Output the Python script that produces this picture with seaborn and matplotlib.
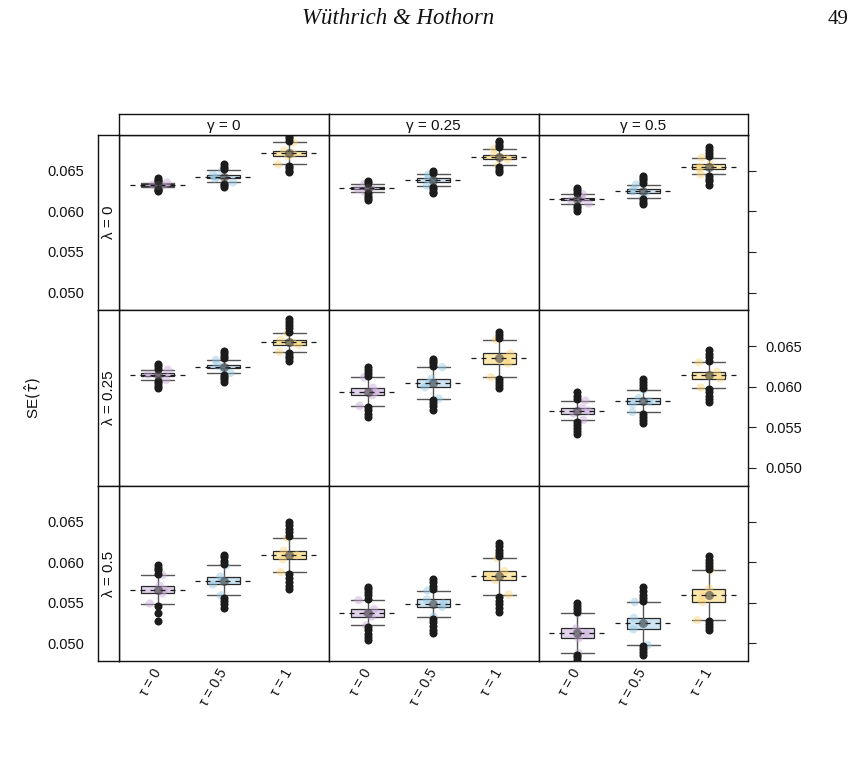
import numpy as np
import pandas as pd
import matplotlib
matplotlib.use("Agg")
import matplotlib.pyplot as plt
import seaborn as sns

LAMBDAS = ["0", "0.25", "0.5"]
GAMMAS = ["0", "0.25", "0.5"]
TAUS = ["0", "0.5", "1"]

# box statistics, indexed [lambda][gamma][tau]
Q1 = [
    [[0.06315, 0.06405, 0.06678], [0.06275, 0.06365, 0.06640], [0.06135, 0.06225, 0.06525]],
    [[0.06130, 0.06225, 0.06515], [0.05895, 0.05994, 0.06286], [0.05670, 0.05785, 0.06100]],
    [[0.05615, 0.05725, 0.06035], [0.05330, 0.05450, 0.05780], [0.05062, 0.05172, 0.05510]],
]
MED = [
    [[0.06327, 0.06425, 0.06713], [0.06290, 0.06385, 0.06668], [0.06152, 0.06245, 0.06550]],
    [[0.06150, 0.06245, 0.06545], [0.05937, 0.06048, 0.06348], [0.05705, 0.05820, 0.06140]],
    [[0.05660, 0.05770, 0.06085], [0.05370, 0.05490, 0.05830], [0.05123, 0.05246, 0.05592]],
]
Q3 = [
    [[0.06338, 0.06448, 0.06748], [0.06305, 0.06405, 0.06695], [0.06170, 0.06270, 0.06580]],
    [[0.06170, 0.06270, 0.06575], [0.05986, 0.06097, 0.06410], [0.05740, 0.05860, 0.06185]],
    [[0.05710, 0.05820, 0.06140], [0.05420, 0.05540, 0.05890], [0.05185, 0.05314, 0.05673]],
]
WLO = [
    [[0.06300, 0.06356, 0.06578], [0.06240, 0.06315, 0.06565], [0.06095, 0.06170, 0.06455]],
    [[0.06085, 0.06170, 0.06430], [0.05764, 0.05854, 0.06117], [0.05590, 0.05690, 0.05990]],
    [[0.05490, 0.05590, 0.05880], [0.05220, 0.05330, 0.05600], [0.04879, 0.04980, 0.05286]],
]
WHI = [
    [[0.06355, 0.06504, 0.06849], [0.06340, 0.06455, 0.06770], [0.06210, 0.06330, 0.06660]],
    [[0.06210, 0.06330, 0.06660], [0.06117, 0.06241, 0.06579], [0.05830, 0.05960, 0.06300]],
    [[0.05840, 0.05960, 0.06300], [0.05530, 0.05650, 0.06050], [0.05368, 0.05510, 0.05897]],
]
OUT_HI = [
    [[[0.0637, 0.0639, 0.0641], [0.0652, 0.0655, 0.0658], [0.0687, 0.0690, 0.0693]],
     [[0.0635, 0.0637], [0.0647, 0.0650], [0.0679, 0.0682, 0.0685, 0.0687]],
     [[0.0623, 0.0626, 0.0629], [0.0635, 0.0638, 0.0641, 0.0644], [0.0668, 0.0672, 0.0675, 0.0679]]],
    [[[0.0622, 0.0625, 0.0628], [0.0635, 0.0638, 0.0641, 0.0644], [0.0668, 0.0672, 0.0676, 0.0680, 0.0684]],
     [[0.0613, 0.0617, 0.0621, 0.0624], [0.0626, 0.0629, 0.0632, 0.0634], [0.0660, 0.0664, 0.0668]],
     [[0.0585, 0.0589, 0.0593], [0.0598, 0.0602, 0.0606, 0.0609], [0.0632, 0.0636, 0.0640, 0.0645]]],
    [[[0.0586, 0.0590, 0.0593, 0.0596], [0.0598, 0.0602, 0.0606, 0.0609], [0.0632, 0.0637, 0.0641, 0.0646, 0.0650]],
     [[0.0555, 0.0559, 0.0563, 0.0567, 0.0569], [0.0567, 0.0571, 0.0575, 0.0579], [0.0607, 0.0611, 0.0615, 0.0620, 0.0624]],
     [[0.0538, 0.0542, 0.0546, 0.0550], [0.0552, 0.0556, 0.0560, 0.0565, 0.0569], [0.0591, 0.0595, 0.0599, 0.0603, 0.0607]]],
]
OUT_LO = [
    [[[0.0628, 0.0626, 0.0625], [0.0634, 0.0632, 0.0630], [0.0656, 0.0653, 0.0650, 0.0648]],
     [[0.0622, 0.0619, 0.0616, 0.0614], [0.0630, 0.0627, 0.0624, 0.0622], [0.0654, 0.0651, 0.0648]],
     [[0.0607, 0.0604, 0.0601], [0.0615, 0.0612, 0.0609], [0.0643, 0.0640, 0.0637, 0.0633]]],
    [[[0.0607, 0.0604, 0.0601, 0.0598], [0.0615, 0.0612, 0.0609, 0.0606], [0.0641, 0.0638, 0.0635, 0.0632]],
     [[0.0575, 0.0571, 0.0567, 0.0563], [0.0584, 0.0580, 0.0576, 0.0571], [0.0610, 0.0606, 0.0602, 0.0598]],
     [[0.0557, 0.0553, 0.0549, 0.0545, 0.0542], [0.0567, 0.0563, 0.0559, 0.0555], [0.0597, 0.0593, 0.0589, 0.0585, 0.0581]]],
    [[[0.0546, 0.0537, 0.0528], [0.0556, 0.0552, 0.0548, 0.0544], [0.0585, 0.0580, 0.0576, 0.0571, 0.0567]],
     [[0.0520, 0.0516, 0.0512, 0.0508, 0.0504], [0.0530, 0.0526, 0.0521, 0.0517, 0.0513], [0.0557, 0.0552, 0.0548, 0.0544, 0.0539]],
     [[0.0486, 0.0483, 0.0480], [0.0497, 0.0493, 0.0489, 0.0486], [0.0527, 0.0524, 0.0520, 0.0516]]],
]

CLOUD_COLORS = ["#c7a6d8", "#93c6e4", "#fbd578"]
BOX_COLORS = ["#e2d3ec", "#cde5f3", "#fde9ae"]
YTICKS = [0.050, 0.055, 0.060, 0.065]
YLIM = (0.0478, 0.0694)

# ---------- long-form data ----------
recs = []
for i, lam in enumerate(LAMBDAS):
    for j, gam in enumerate(GAMMAS):
        for k, tau in enumerate(TAUS):
            for v in OUT_HI[i][j][k] + OUT_LO[i][j][k]:
                recs.append((lam, gam, tau, "out", v))
            for v in (WLO[i][j][k], Q1[i][j][k], MED[i][j][k], Q3[i][j][k], WHI[i][j][k]):
                recs.append((lam, gam, tau, "cloud", v))
            recs.append((lam, gam, tau, "center", MED[i][j][k]))
df = pd.DataFrame(recs, columns=["lam", "gam", "tau", "kind", "value"])

# ---------- figure ----------
W, H, DPI = 855, 784, 100
sns.set_theme(style="white")
plt.rcParams["font.family"] = ["Liberation Sans", "DejaVu Sans"]
plt.rcParams["mathtext.fontset"] = "dejavusans"
np.random.seed(3)

fig = plt.figure(figsize=(W / DPI, H / DPI), dpi=DPI)


def fax(x0, y0, x1, y1):
    return fig.add_axes([x0 / W, 1 - y1 / H, (x1 - x0) / W, (y1 - y0) / H])


COLX = [119, 328.8, 538.6, 748.4]
ROWY = [135, 310.4, 485.8, 661.2]
TXT = "#111111"
EDGE = "#111111"

for i, lam in enumerate(LAMBDAS):
    for j, gam in enumerate(GAMMAS):
        ax = fax(COLX[j], ROWY[i], COLX[j + 1], ROWY[i + 1])
        sub = df[(df.lam == lam) & (df.gam == gam)]
        stats = []
        for k in range(3):
            stats.append(dict(med=MED[i][j][k], q1=Q1[i][j][k], q3=Q3[i][j][k],
                              whislo=WLO[i][j][k], whishi=WHI[i][j][k], fliers=[]))
        bp = ax.bxp(stats, positions=[0, 1, 2], widths=0.5, capwidths=0.5,
                    patch_artist=True, showfliers=False, manage_ticks=False,
                    boxprops=dict(edgecolor="#2a2a2a", linewidth=0.9),
                    whiskerprops=dict(color="#555555", linewidth=1.0),
                    capprops=dict(color="#555555", linewidth=1.0),
                    medianprops=dict(linewidth=0))
        for k, patch in enumerate(bp["boxes"]):
            patch.set_facecolor(BOX_COLORS[k])
            patch.set_zorder(2)
        sns.stripplot(data=sub[sub.kind == "cloud"], x="tau", y="value", hue="tau",
                      order=TAUS, hue_order=TAUS, palette=CLOUD_COLORS, jitter=0.18,
                      size=6, alpha=0.45, linewidth=0, legend=False, ax=ax, zorder=3)
        ax.hlines([MED[i][j][k] for k in range(3)], [k - 0.43 for k in range(3)],
                  [k + 0.43 for k in range(3)], colors="#1a1a1a", linewidth=0.9,
                  linestyles=(0, (4, 4)), zorder=4)
        sns.stripplot(data=sub[sub.kind == "out"], x="tau", y="value", order=TAUS,
                      color="#1c1c1c", jitter=False, size=5.8, linewidth=0, ax=ax, zorder=4)
        sns.stripplot(data=sub[sub.kind == "center"], x="tau", y="value", order=TAUS,
                      color="#3d3d3d", jitter=False, size=6.5, alpha=0.6, linewidth=0,
                      ax=ax, zorder=5)
        ax.set_xlim(-0.59, 2.6)
        ax.set_ylim(*YLIM)
        ax.set_xlabel("")
        ax.set_ylabel("")
        ax.grid(False)
        for s in ax.spines.values():
            s.set_visible(True)
            s.set_color(EDGE)
            s.set_linewidth(1.0)
        if i == 2:
            ax.set_xticks([0, 1, 2])
            ax.set_xticklabels(["τ = " + t for t in TAUS], rotation=60, ha="right",
                               va="center", rotation_mode="anchor", fontsize=10,
                               color=TXT)
            ax.tick_params(axis="x", length=0, pad=6)
        else:
            ax.set_xticks([])
        if j == 2:
            ax.yaxis.set_ticks_position("right")
            ax.set_yticks(YTICKS)
            ax.set_yticklabels(["%.3f" % t for t in YTICKS])
            ax.tick_params(axis="y", direction="out", length=6, width=0.8,
                           color="#222222", labelsize=10.5, labelcolor=TXT, pad=6,
                           left=False, labelleft=False, right=True,
                           labelright=(i == 1))
        else:
            ax.set_yticks([])

# top strips
for j, gam in enumerate(GAMMAS):
    sa = fax(COLX[j], 114.3, COLX[j + 1], 135)
    sa.set_xticks([])
    sa.set_yticks([])
    for s in sa.spines.values():
        s.set_color(EDGE)
        s.set_linewidth(1.0)
    sa.text(0.5, 0.45, "γ = " + gam, ha="center", va="center", fontsize=11,
            color=TXT, transform=sa.transAxes)

# left strips (carry the left y axis)
for i, lam in enumerate(LAMBDAS):
    sa = fax(98.3, ROWY[i], 119, ROWY[i + 1])
    sa.set_xticks([])
    sa.set_ylim(*YLIM)
    sa.set_yticks(YTICKS)
    sa.set_yticklabels(["%.3f" % t for t in YTICKS])
    sa.tick_params(axis="y", direction="out", length=6.3, width=0.8, color="#222222",
                   labelsize=10.5, labelcolor=TXT, pad=4, labelleft=(i != 1))
    for s in sa.spines.values():
        s.set_color(EDGE)
        s.set_linewidth(1.0)
    sa.text(0.5, 0.5, "λ = " + lam, ha="center", va="center", rotation=90,
            fontsize=11, color=TXT, transform=sa.transAxes)

fig.text(33 / W, 1 - 398 / H, r"SE$(\hat{\tau})$", rotation=90, ha="center",
         va="center", fontsize=11, color=TXT)
fig.text(398 / W, 1 - 19 / H, "Wüthrich & Hothorn", family="Liberation Serif",
         style="italic", fontsize=16.5, ha="center", va="center", color="#111111")
fig.text(838 / W, 1 - 19 / H, "49", family="Liberation Serif", fontsize=15,
         ha="center", va="center", color="#111111")

fig.savefig("out.png", dpi=DPI)
